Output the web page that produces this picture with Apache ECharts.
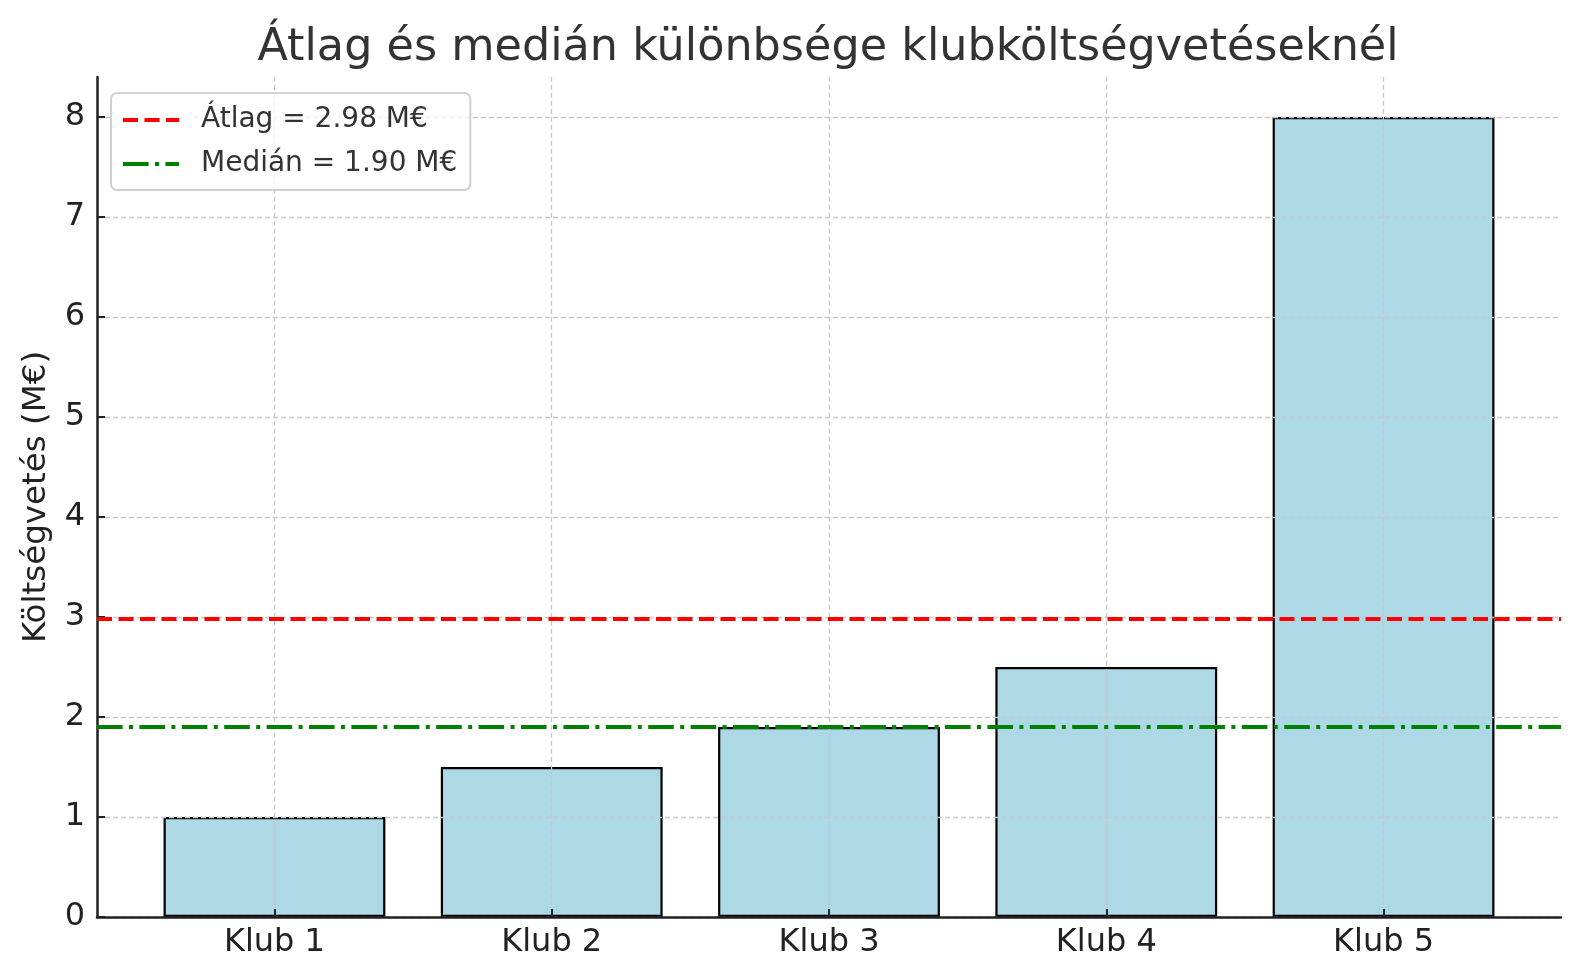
<!DOCTYPE html>
<html>
<head>
<meta charset="utf-8">
<script src="https://cdn.jsdelivr.net/npm/echarts@6/dist/echarts.min.js"></script>
<style>
html,body{margin:0;padding:0;background:#fff;}
#chart{width:1580px;height:980px;}
</style>
</head>
<body>
<div id="chart"></div>
<script>
const categories = ['Klub 1', 'Klub 2', 'Klub 3', 'Klub 4', 'Klub 5'];
const budgets = [1, 1.5, 1.9, 2.5, 8];
const meanValue = 2.98;
const medianValue = 1.90;
const yTicks = [0, 1, 2, 3, 4, 5, 6, 7, 8];
const xTicks = [0, 1, 2, 3, 4];
const xRange = [-0.64, 4.64];
const yRange = [0, 8.4];
const titleText = 'Átlag és medián különbsége klubköltségvetéseknél';
const yName = 'Költségvetés (M€)';
const meanLabel = 'Átlag = 2.98 M€';
const medianLabel = 'Medián = 1.90 M€';

const font = 'DejaVu Sans';
const chart = echarts.init(document.getElementById('chart'), null, {renderer: 'canvas'});
const gridStyle = {show: true, lineStyle: {color: '#c8c8c8', width: 1.3, type: [5, 3]}};
const meanLine = {color: '#ff0000', width: 4, type: [15, 6.5]};
const medianLine = {color: '#008000', width: 4, type: [25.6, 6.4, 4, 6.4]};

chart.setOption({
  animation: false,
  backgroundColor: '#ffffff',
  title: {
    text: titleText,
    left: 823,
    textAlign: 'center',
    top: 21,
    textStyle: {fontFamily: font, fontSize: 44.5, fontWeight: 'normal', color: '#333333'}
  },
  grid: {left: 97, right: 19, top: 77, bottom: 63, containLabel: false},
  legend: {
    orient: 'vertical',
    left: 111,
    top: 93,
    padding: [12, 13, 11, 10],
    itemWidth: 56,
    itemHeight: 14,
    itemGap: 14,
    backgroundColor: 'rgba(255,255,255,0.8)',
    borderColor: '#d0d0d0',
    borderWidth: 2,
    borderRadius: 6,
    itemStyle: {opacity: 0},
    textStyle: {fontFamily: font, fontSize: 28, color: '#333333', padding: [0, 0, 0, 17], lineHeight: 30},
    data: [
      {name: meanLabel, lineStyle: meanLine},
      {name: medianLabel, lineStyle: medianLine}
    ],
    z: 10
  },
  xAxis: {
    type: 'value',
    min: xRange[0],
    max: xRange[1],
    z: 3,
    axisLine: {show: true, onZero: false, lineStyle: {color: '#222222', width: 2.5}},
    axisTick: {show: true, inside: true, length: 8, customValues: xTicks, lineStyle: {color: '#222222', width: 2}},
    axisLabel: {
      customValues: xTicks,
      formatter: v => categories[Math.round(v)],
      fontFamily: font, fontSize: 32, color: '#222222', margin: 10
    },
    splitLine: gridStyle
  },
  yAxis: {
    type: 'value',
    min: yRange[0],
    max: yRange[1],
    z: 3,
    name: yName,
    nameLocation: 'middle',
    nameRotate: 90,
    nameGap: 44,
    nameTextStyle: {fontFamily: font, fontSize: 32.5, color: '#222222'},
    axisLine: {show: true, onZero: false, lineStyle: {color: '#222222', width: 2.5}},
    axisTick: {show: true, inside: true, length: 8, customValues: yTicks, lineStyle: {color: '#222222', width: 2}},
    axisLabel: {customValues: yTicks, fontFamily: font, fontSize: 32, color: '#222222', margin: 12},
    splitLine: gridStyle
  },
  series: [
    {
      type: 'bar',
      name: 'Költségvetés',
      data: budgets.map((v, i) => [xTicks[i], v]),
      barWidth: '80%',
      itemStyle: {color: '#ADD8E6', borderColor: '#000000', borderWidth: 2.2},
      z: 2
    },
    {
      type: 'line',
      name: meanLabel,
      data: [[xRange[0], meanValue], [xRange[1], meanValue]],
      symbol: 'none',
      lineStyle: meanLine,
      itemStyle: {color: '#ff0000'},
      z: 5
    },
    {
      type: 'line',
      name: medianLabel,
      data: [[xRange[0], medianValue], [xRange[1], medianValue]],
      symbol: 'none',
      lineStyle: medianLine,
      itemStyle: {color: '#008000'},
      z: 5
    }
  ]
});
</script>
</body>
</html>
